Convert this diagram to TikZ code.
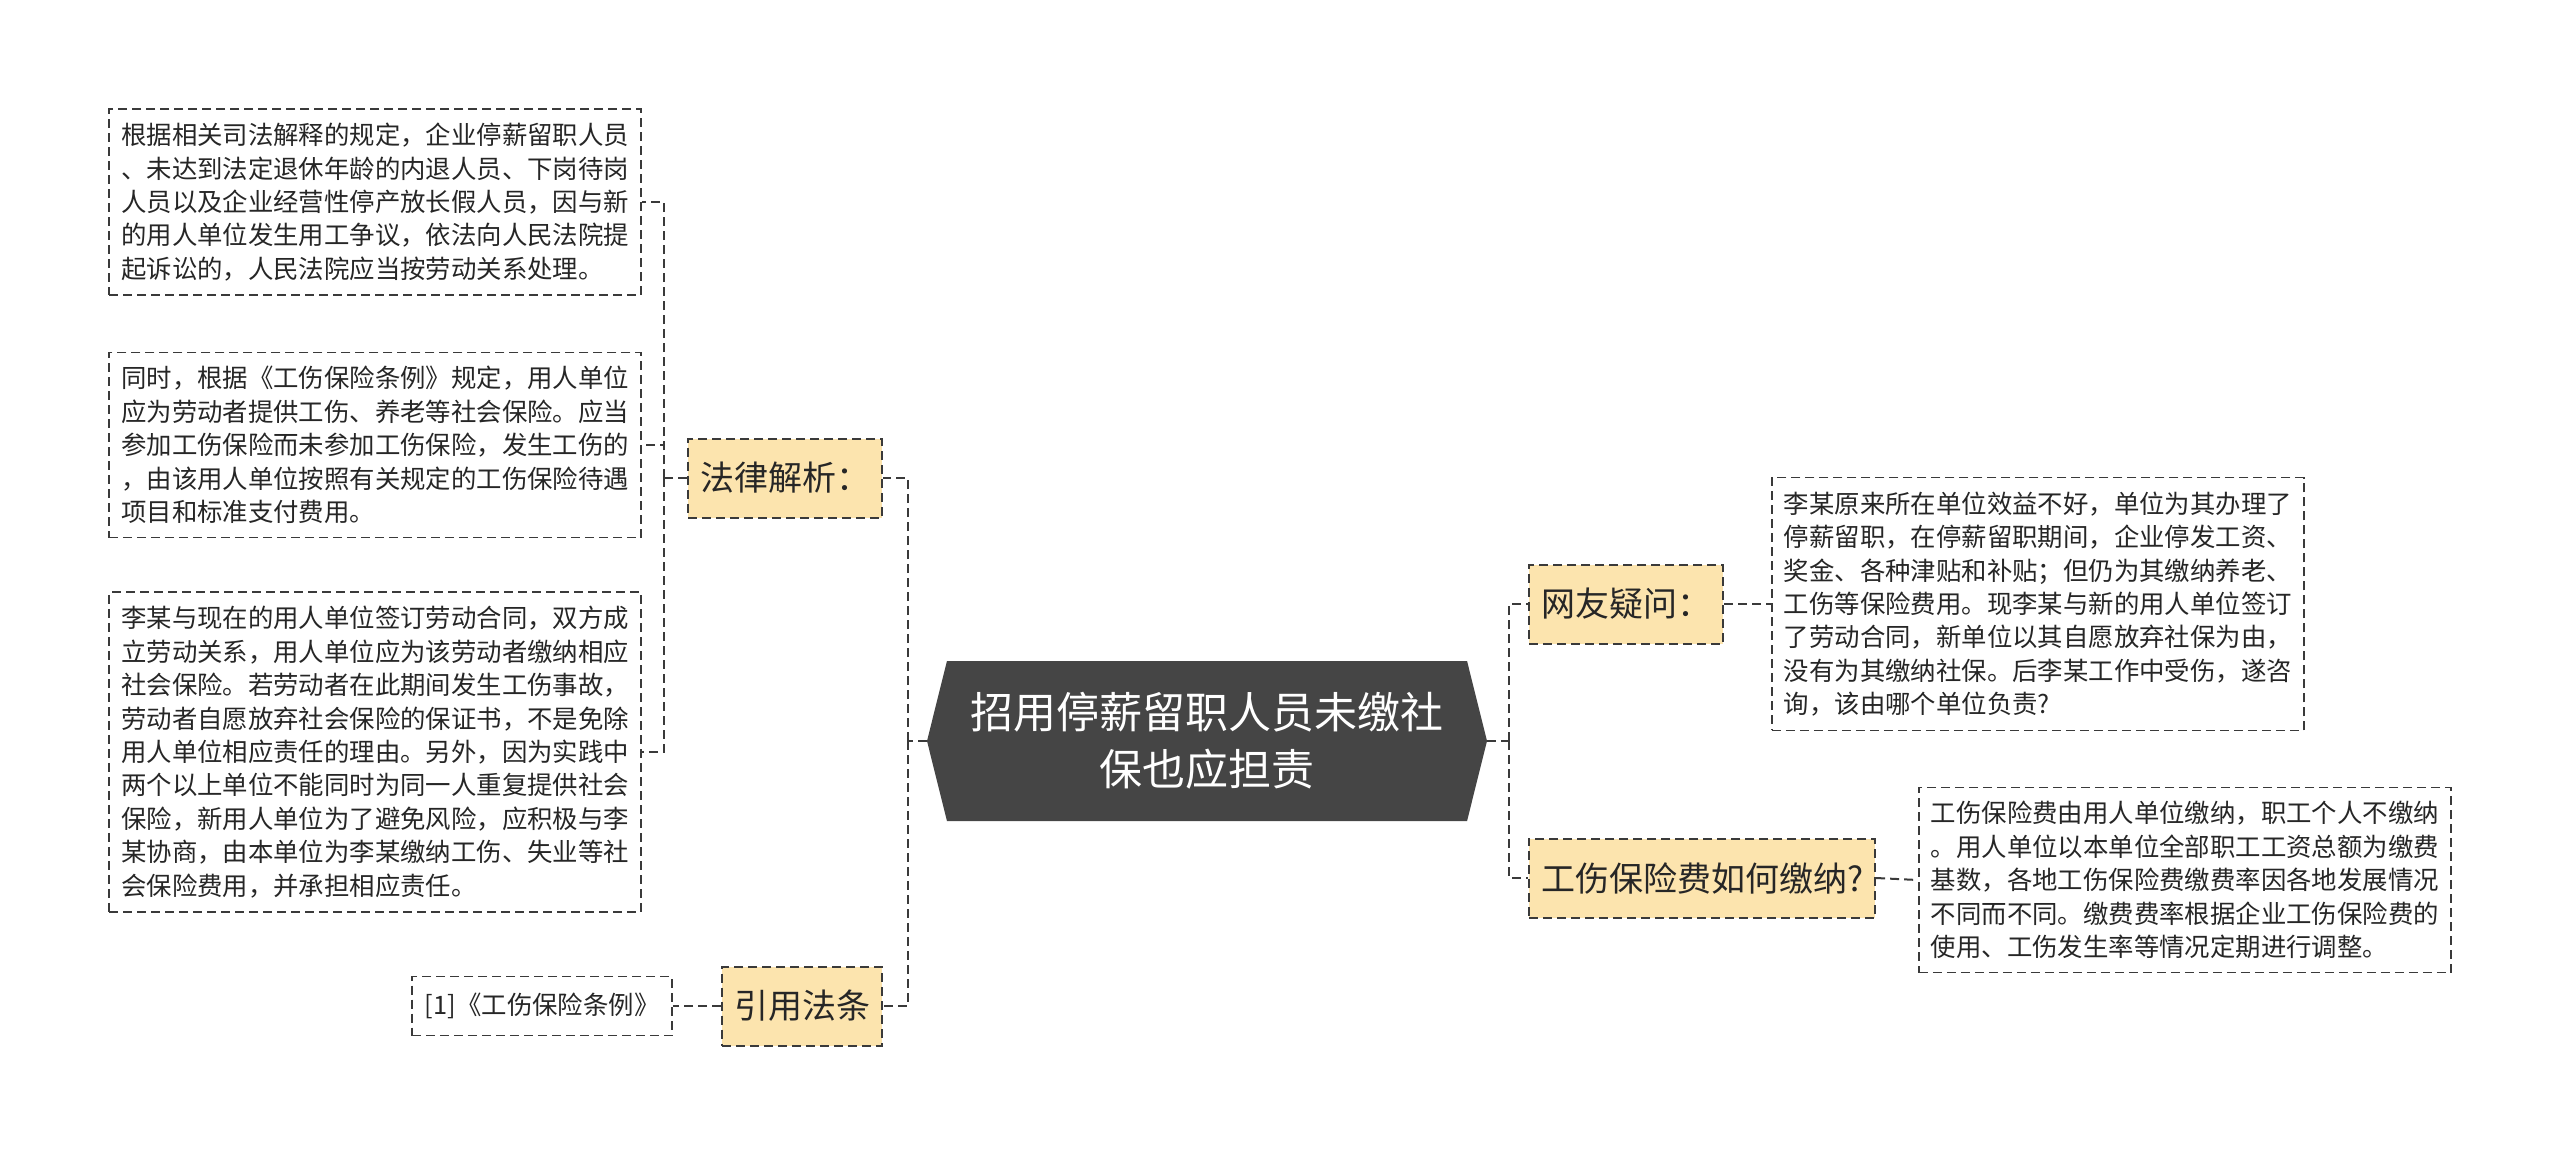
\documentclass[tikz,border=0pt]{standalone}
\usepackage{fontspec}
\setmainfont{Noto Sans CJK SC}
\usetikzlibrary{shapes.symbols}
\definecolor{rootgray}{HTML}{454545}
\definecolor{topicfill}{HTML}{FCE4AE}
\definecolor{linegray}{HTML}{3A3A3A}

\begin{document}
\begin{tikzpicture}[x=0.5pt, y=-0.5pt,
      every node/.append style={font=\fontsize{12.7}{16.7}\selectfont, text=black!85},
      link/.style={draw=linegray, line width=1pt, dash pattern=on 4.5pt off 2.5pt}]
    \tikzstyle{rootnode} = [signal, signal to=west and east, signal pointer angle=152,
      fill=rootgray, text=white, align=center, minimum width=280pt, minimum height=80pt,
      inner xsep=0pt, font=\fontsize{21.5}{28.5}\selectfont]
    \tikzstyle{topic} = [fill=topicfill, draw=linegray, line width=1pt,
      dash pattern=on 4.5pt off 2.5pt, minimum height=39.5pt, inner xsep=6pt,
      font=\fontsize{17}{20}\selectfont]
    \tikzstyle{leaf} = [draw=linegray, line width=0.8pt, dash pattern=on 4.5pt off 2.5pt,
      text width=254pt, align=left, inner xsep=6pt, inner ysep=7pt]
    \tikzstyle{ref} = [draw=linegray, line width=0.8pt, dash pattern=on 4.5pt off 2.5pt,
      minimum width=130pt, minimum height=29.5pt, inner xsep=6pt]
    \useasboundingbox (0,0) rectangle (2560,1153);
    \node (root) [rootnode] at (1207,741) {招用停薪留职人员未缴社\\保也应担责};

    \node (law) [topic, anchor=east] at (883,478) {法律解析：};
    \node (cite) [topic, anchor=east] at (883,1006) {引用法条};
    \node (ask) [topic, anchor=west] at (1528,604) {网友疑问：};
    \node (fee) [topic, anchor=west] at (1528,878) {工伤保险费如何缴纳?};

    \node (rule) [leaf, anchor=east] at (642,202) {根据相关司法解释的规定，企业停薪留职人员\\、未达到法定退休年龄的内退人员、下岗待岗\\人员以及企业经营性停产放长假人员，因与新\\的用人单位发生用工争议，依法向人民法院提\\起诉讼的，人民法院应当按劳动关系处理。};
    \node (insure) [leaf, anchor=east] at (642,445) {同时，根据《工伤保险条例》规定，用人单位\\应为劳动者提供工伤、养老等社会保险。应当\\参加工伤保险而未参加工伤保险，发生工伤的\\，由该用人单位按照有关规定的工伤保险待遇\\项目和标准支付费用。};
    \node (duty) [leaf, anchor=east] at (642,752) {李某与现在的用人单位签订劳动合同，双方成\\立劳动关系，用人单位应为该劳动者缴纳相应\\社会保险。若劳动者在此期间发生工伤事故，\\劳动者自愿放弃社会保险的保证书，不是免除\\用人单位相应责任的理由。另外，因为实践中\\两个以上单位不能同时为同一人重复提供社会\\保险，新用人单位为了避免风险，应积极与李\\某协商，由本单位为李某缴纳工伤、失业等社\\会保险费用，并承担相应责任。};
    \node (regl) [ref, anchor=east] at (673,1006) {[1]《工伤保险条例》};
    \node (case) [leaf, anchor=west] at (1771,604) {李某原来所在单位效益不好，单位为其办理了\\停薪留职，在停薪留职期间，企业停发工资、\\奖金、各种津贴和补贴；但仍为其缴纳养老、\\工伤等保险费用。现李某与新的用人单位签订\\了劳动合同，新单位以其自愿放弃社保为由，\\没有为其缴纳社保。后李某工作中受伤，遂咨\\询，该由哪个单位负责?};
    \node (pay) [leaf, anchor=west] at (1918,880) {工伤保险费由用人单位缴纳，职工个人不缴纳\\。用人单位以本单位全部职工工资总额为缴费\\基数，各地工伤保险费缴费率因各地发展情况\\不同而不同。缴费费率根据企业工伤保险费的\\使用、工伤发生率等情况定期进行调整。};

    \draw[link] (root.west) -- ++(-19,0) coordinate (lfork);
    \draw[link] (lfork) |- (law.east);
    \draw[link] (lfork) |- (cite.east);
    \draw[link] (law.west) -- ++(-23,0) coordinate (lawfork);
    \draw[link] (lawfork) |- (rule.east);
    \draw[link] (lawfork) |- (insure.east);
    \draw[link] (lawfork) |- (duty.east);
    \draw[link] (cite.west) -- (regl.east);
    \draw[link] (root.east) -- ++(22,0) coordinate (rfork);
    \draw[link] (rfork) |- (ask.west);
    \draw[link] (rfork) |- (fee.west);
    \draw[link] (ask.east) -- (case.west);
    \draw[link] (fee.east) -- (pay.west);
\end{tikzpicture}
\end{document}
